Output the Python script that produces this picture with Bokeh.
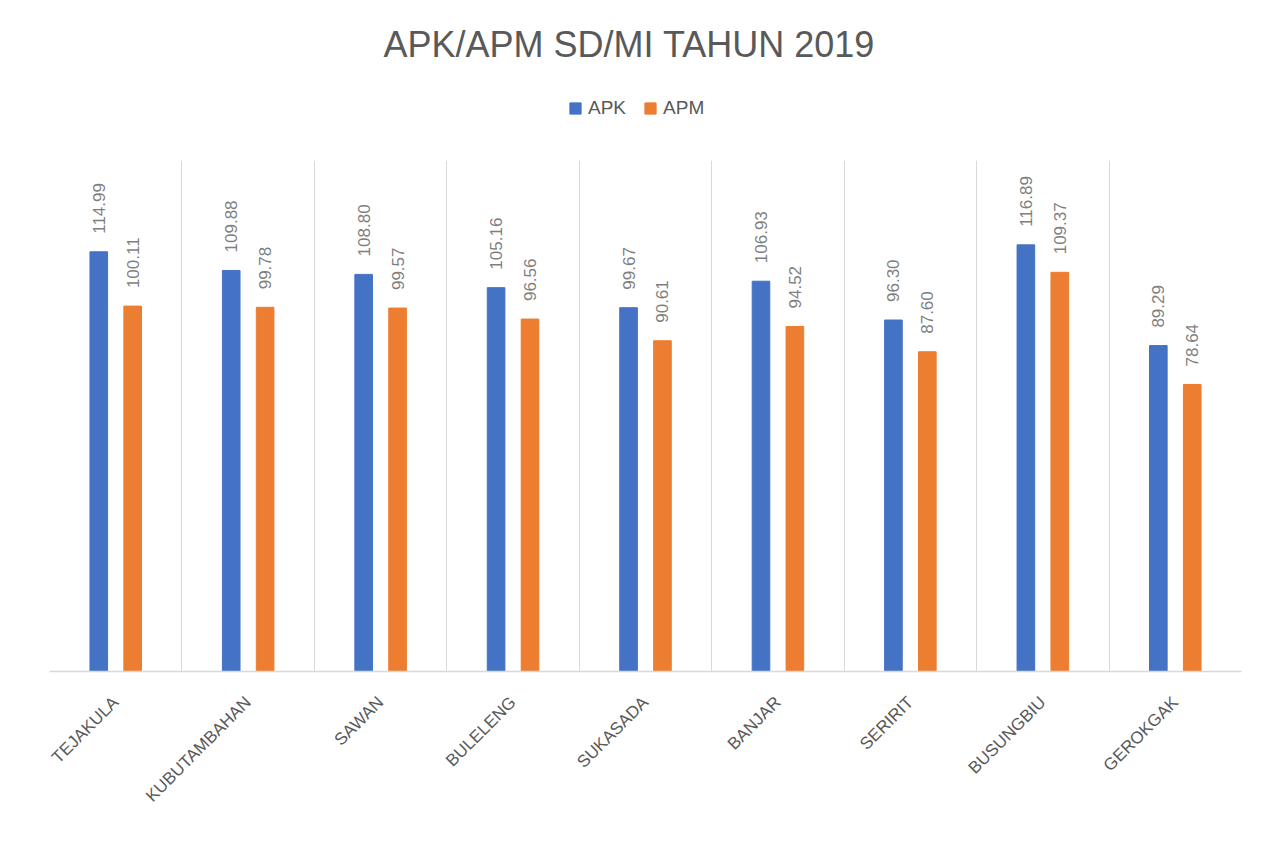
import math
from bokeh.plotting import figure
from bokeh.layouts import column
from bokeh.models import ColumnDataSource, FixedTicker, Legend, LegendItem, Range1d
from bokeh.core.properties import value
from bokeh.transform import dodge
from bokeh.embed import file_html
from bokeh.resources import INLINE

categories = ["TEJAKULA", "KUBUTAMBAHAN", "SAWAN", "BULELENG", "SUKASADA",
              "BANJAR", "SERIRIT", "BUSUNGBIU", "GEROKGAK"]
apk = [114.99, 109.88, 108.80, 105.16, 99.67, 106.93, 96.30, 116.89, 89.29]
apm = [100.11, 99.78, 99.57, 96.56, 90.61, 94.52, 87.60, 109.37, 78.64]
series_names = ["APK", "APM"]
title_text = "APK/APM SD/MI TAHUN 2019"

BLUE = "#4472C4"
ORANGE = "#ED7D31"
FONT = "Liberation Sans"

xpos = [i + 0.5 for i in range(len(categories))]
src = ColumnDataSource(dict(
    x=xpos, apk=apk, apm=apm,
    apk_lbl=[f"{v:.2f}" for v in apk],
    apm_lbl=[f"{v:.2f}" for v in apm],
))

# ---- header: title + legend ----
top = figure(width=1271, height=160, output_backend="svg", toolbar_location=None,
             x_range=Range1d(0, 1), y_range=Range1d(0, 1),
             min_border_left=0, min_border_right=0, min_border_bottom=0,
             min_border_top=69)
top.outline_line_color = None
top.axis.visible = False
top.grid.visible = False
top.title.text = title_text
top.title.align = "left"
top.title.offset = 334
top.title.text_font = FONT
top.title.text_font_size = "36px"
top.title.text_font_style = "normal"
top.title.text_color = "#595959"
top.title.standoff = 10

# legend keys (same series, not drawn in the header)
k1 = top.vbar(x="x", top="apk", width=0.1, source=src, color=BLUE, visible=False)
k2 = top.vbar(x="x", top="apm", width=0.1, source=src, color=ORANGE, visible=False)
legend = Legend(items=[LegendItem(label=series_names[0], renderers=[k1]),
                       LegendItem(label=series_names[1], renderers=[k2])],
                orientation="horizontal", location=(519, 41),
                glyph_width=14, glyph_height=14, label_standoff=6, spacing=17,
                padding=0, margin=0, border_line_color=None,
                background_fill_alpha=0, inactive_fill_alpha=0,
                label_text_font=FONT, label_text_font_size="19px",
                label_text_color="#595959")
top.add_layout(legend, "center")

# ---- main chart ----
p = figure(width=1271, height=690, output_backend="svg", toolbar_location=None,
           x_range=Range1d(0, len(categories)), y_range=Range1d(0, 140),
           min_border_left=49, min_border_right=30, min_border_top=0,
           min_border_bottom=179)
p.outline_line_color = None

p.vbar(x=dodge("x", -0.128, range=p.x_range), top="apk", width=0.133,
       source=src, color=BLUE)
p.vbar(x=dodge("x", 0.128, range=p.x_range), top="apm", width=0.133,
       source=src, color=ORANGE)

for col, lbl, off in (("apk", "apk_lbl", -0.128), ("apm", "apm_lbl", 0.128)):
    p.text(x=dodge("x", off, range=p.x_range), y=col, text=lbl, source=src,
           angle=math.pi / 2, text_align="left", text_baseline="middle",
           y_offset=-18, text_font=value(FONT), text_font_size="17px",
           text_color="#7F7F7F")

p.yaxis.visible = False
p.ygrid.visible = False
p.xaxis.ticker = FixedTicker(ticks=xpos)
p.xaxis.major_label_overrides = {x: c for x, c in zip(xpos, categories)}
p.xaxis.major_label_orientation = math.pi / 4
p.xaxis.major_label_text_font = FONT
p.xaxis.major_label_text_font_size = "17px"
p.xaxis.major_label_text_color = "#595959"
p.xaxis.major_label_standoff = 22
p.xaxis.major_tick_line_color = None
p.xaxis.minor_tick_line_color = None
p.xaxis.axis_line_color = "#D9D9D9"
p.xaxis.axis_line_width = 1.5
p.xgrid.ticker = FixedTicker(ticks=list(range(len(categories) + 1)))
p.xgrid.grid_line_color = "#D9D9D9"
p.xgrid.grid_line_width = 1

layout = column(top, p, spacing=0)
open("out.html", "w").write(file_html(layout, INLINE))
